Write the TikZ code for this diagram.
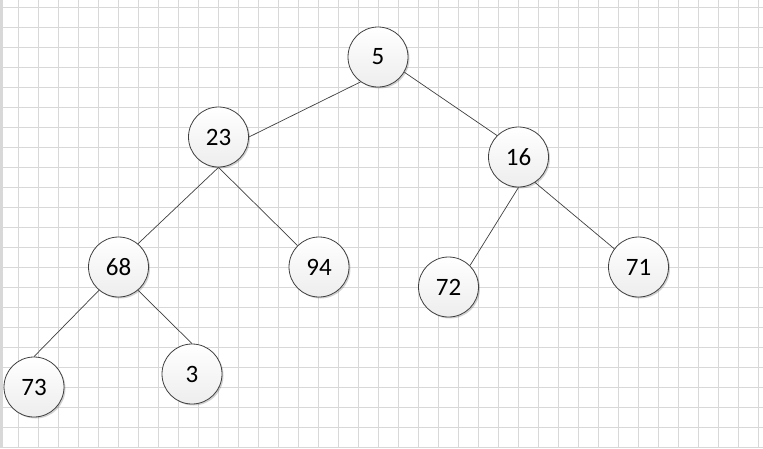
\documentclass[tikz,border=0pt]{standalone}
\usepackage{fontspec}
\setmainfont{Carlito}
\usetikzlibrary{shadows}
\definecolor{gridc}{HTML}{D8D8D8}
\definecolor{edgec}{HTML}{404040}
\begin{document}
\begin{tikzpicture}[x=1pt,y=-1pt,
  nodec/.style={circle, draw=edgec, line width=0.8pt, minimum size=60pt, inner sep=0pt,
    top color=white, bottom color=gray!14,
    drop shadow={shadow xshift=1.5pt, shadow yshift=-1.5pt, opacity=0.18, fill=black},
    font=\fontsize{25}{25}\selectfont},
  edge/.style={draw=edgec, line width=0.7pt}]
\useasboundingbox (0,0) rectangle (763,448);
\fill[white] (0,0) rectangle (763,448);
% grid
\foreach \gx in {18,38,...,758} \draw[gridc, line width=0.8pt] (\gx,0) -- (\gx,448);
\foreach \gy in {7,27,...,447} \draw[gridc, line width=0.8pt] (0,\gy) -- (763,\gy);
\fill[gridc] (0,0) rectangle (3,448);
% nodes
\node[nodec] (n5)  at (378,57)    {5};
\node[nodec] (n23) at (218.5,137) {23};
\node[nodec] (n16) at (518.5,157) {16};
\node[nodec] (n68) at (118.5,267) {68};
\node[nodec] (n94) at (319,267)   {94};
\node[nodec] (n72) at (448.5,287) {72};
\node[nodec] (n71) at (638.5,267) {71};
\node[nodec] (n73) at (34,387)    {73};
\node[nodec] (n3)  at (192,374)   {3};
% edges
\draw[edge] (n5.235) -- (n23.east);
\draw[edge] (n5.-30) -- (n16.135);
\draw[edge] (n23.south) -- (n68.50);
\draw[edge] (n23.south) -- (n94.135);
\draw[edge] (n16.south) -- (n72.45);
\draw[edge] (n16.303) -- (n71.143);
\draw[edge] (n68.230) -- (n73.north);
\draw[edge] (n68.310) -- (n3.north);
\end{tikzpicture}
\end{document}
